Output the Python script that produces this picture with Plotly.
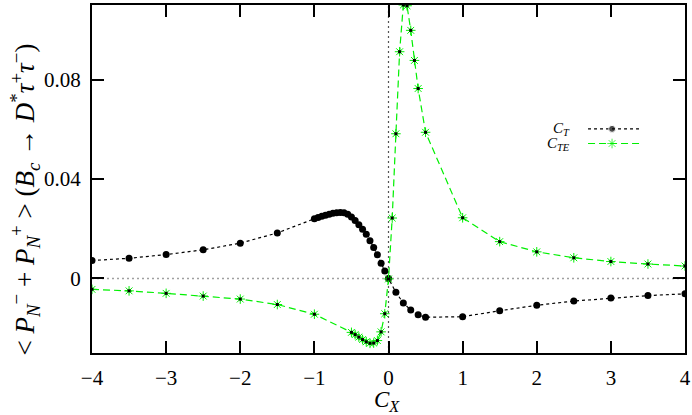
import plotly.graph_objects as go

# C_T curve (black dots)
CT_X = [-4.0, -3.5, -3.0, -2.5, -2.0, -1.5,
        -1.0, -0.95, -0.9, -0.85, -0.8, -0.75, -0.7, -0.65, -0.6, -0.55,
        -0.5, -0.45, -0.4, -0.35, -0.3, -0.25, -0.2, -0.15, -0.1, -0.05, 0.0,
        0.1, 0.2, 0.3, 0.4, 0.5,
        1.0, 1.5, 2.0, 2.5, 3.0, 3.5, 4.0]
CT_Y = [0.0072, 0.0081, 0.0096, 0.0115, 0.0142, 0.0183,
        0.0240, 0.0245, 0.0250, 0.0254, 0.0258, 0.0262, 0.0264, 0.0265, 0.0264, 0.0258,
        0.0247, 0.0233, 0.0216, 0.0198, 0.0178, 0.0152, 0.0124, 0.0095, 0.0061, 0.0030, 0.0000,
        -0.0056, -0.0099, -0.0127, -0.0146, -0.0156,
        -0.0154, -0.0130, -0.0108, -0.0091, -0.0079, -0.0069, -0.0062]

# C_TE curve (green stars)
CTE_X = [-4.0, -3.5, -3.0, -2.5, -2.0, -1.5, -1.0,
         -0.5, -0.45, -0.4, -0.35, -0.3, -0.25, -0.2, -0.15, -0.1, -0.05, 0.0,
         0.05, 0.1, 0.15, 0.2, 0.25, 0.3, 0.35, 0.4, 0.5,
         1.0, 1.5, 2.0, 2.5, 3.0, 3.5, 4.0]
CTE_Y = [-0.0044, -0.0050, -0.0060, -0.0071, -0.0083, -0.0105, -0.0144,
         -0.0217, -0.0226, -0.0236, -0.0246, -0.0255, -0.0261, -0.0260, -0.0250, -0.0215, -0.0142, -0.0002,
         0.0243, 0.0582, 0.0912, 0.1100, 0.1097, 0.0998, 0.0877, 0.0764, 0.0588,
         0.0244, 0.0148, 0.0107, 0.0083, 0.0068, 0.0058, 0.0050]

X_TICKS = [-4, -3, -2, -1, 0, 1, 2, 3, 4]
Y_TICKS = [0, 0.04, 0.08]
Y_TICK_TEXT = ["0", "0.04", "0.08"]

GREEN = "#00f000"
FONT = "Liberation Serif"


def main() -> None:
    fig = go.Figure()

    fig.add_trace(go.Scatter(
        x=CT_X, y=CT_Y, mode="lines+markers", showlegend=False,
        line=dict(color="black", width=1.2, dash="3px,3px"),
        marker=dict(color="black", size=7, symbol="circle"),
    ))
    fig.add_trace(go.Scatter(
        x=CTE_X, y=CTE_Y, mode="lines+markers", showlegend=False,
        line=dict(color=GREEN, width=1.2, dash="7px,4px"),
        marker=dict(color=GREEN, size=8, symbol="asterisk-open", line=dict(color=GREEN, width=1)),
    ))
    fig.add_trace(go.Scatter(
        x=CTE_X, y=CTE_Y, mode="markers", showlegend=False,
        marker=dict(color="black", size=3, symbol="square"),
    ))

    # key samples on a hidden overlay axis
    fig.add_trace(go.Scatter(
        x=[0.8365, 0.877, 0.924], y=[0.644, 0.644, 0.644], xaxis="x2", yaxis="y2",
        mode="lines+markers", showlegend=False,
        line=dict(color="black", width=1.2, dash="3px,3px"),
        marker=dict(color="black", size=[0, 7, 0]),
    ))
    fig.add_trace(go.Scatter(
        x=[0.8365, 0.877, 0.924], y=[0.602, 0.602, 0.602], xaxis="x2", yaxis="y2",
        mode="lines+markers", showlegend=False,
        line=dict(color=GREEN, width=1.2, dash="7px,4px"),
        marker=dict(color=GREEN, size=[0, 8, 0], symbol="asterisk-open", line=dict(color=GREEN, width=1)),
    ))

    # zero lines
    fig.add_shape(type="line", xref="x", yref="y", x0=-4, x1=4, y0=0, y1=0,
                  line=dict(color="#a0a0a0", width=1.5, dash="2px,3px"), layer="below")
    fig.add_shape(type="line", xref="x", yref="y", x0=0, x1=0, y0=-0.03, y1=0.11,
                  line=dict(color="#555555", width=1.2, dash="2px,3px"), layer="below")

    axis_common = dict(
        showline=True, linecolor="black", linewidth=2, mirror="ticks",
        ticks="inside", ticklen=12, tickwidth=2, tickcolor="black",
        showgrid=False, zeroline=False, automargin=False,
        tickfont=dict(family=FONT, size=21, color="black"),
    )
    fig.update_layout(
        width=692, height=415,
        margin=dict(l=92, r=7, t=5, b=62),
        paper_bgcolor="white", plot_bgcolor="white",
        font=dict(family=FONT, color="black"),
        xaxis=dict(range=[-4, 4], tickvals=X_TICKS, ticklabelstandoff=5, **axis_common),
        yaxis=dict(range=[-0.03, 0.11], tickvals=Y_TICKS, ticktext=Y_TICK_TEXT,
                   ticklabelstandoff=5, **axis_common),
        xaxis2=dict(range=[0, 1], overlaying="x", visible=False),
        yaxis2=dict(range=[0, 1], overlaying="y", visible=False),
        annotations=[
            dict(x=-0.1135, y=0.44, xref="paper", yref="paper", xanchor="center", yanchor="middle",
                 showarrow=False, textangle=-90,
                 text="&lt; <i>P</i><sub><i>N</i></sub><sup>−</sup> + <i>P</i><sub><i>N</i></sub><sup>+</sup> &gt; "
                      "(<i>B</i><sub><i>c</i></sub> → <i>D</i><sup>*</sup><i>τ</i><sup>+</sup><i>τ</i><sup>−</sup>)",
                 font=dict(family=FONT, size=27)),
            dict(x=0.4977, y=-0.137, xref="paper", yref="paper", xanchor="center", yanchor="middle",
                 showarrow=False, text="<i>C</i><sub><i>X</i></sub>", font=dict(family=FONT, size=23)),
            dict(x=0.81, y=0.644, xref="paper", yref="paper", xanchor="right", yanchor="middle",
                 showarrow=False, text="<i>C</i><sub><i>T</i></sub>", font=dict(family=FONT, size=15)),
            dict(x=0.81, y=0.602, xref="paper", yref="paper", xanchor="right", yanchor="middle",
                 showarrow=False, text="<i>C</i><sub><i>TE</i></sub>", font=dict(family=FONT, size=15)),
        ],
    )

    fig.write_html("out.html", config={"displayModeBar": False},
                   post_script="document.body.style.margin = '0';")


if __name__ == "__main__":
    main()
